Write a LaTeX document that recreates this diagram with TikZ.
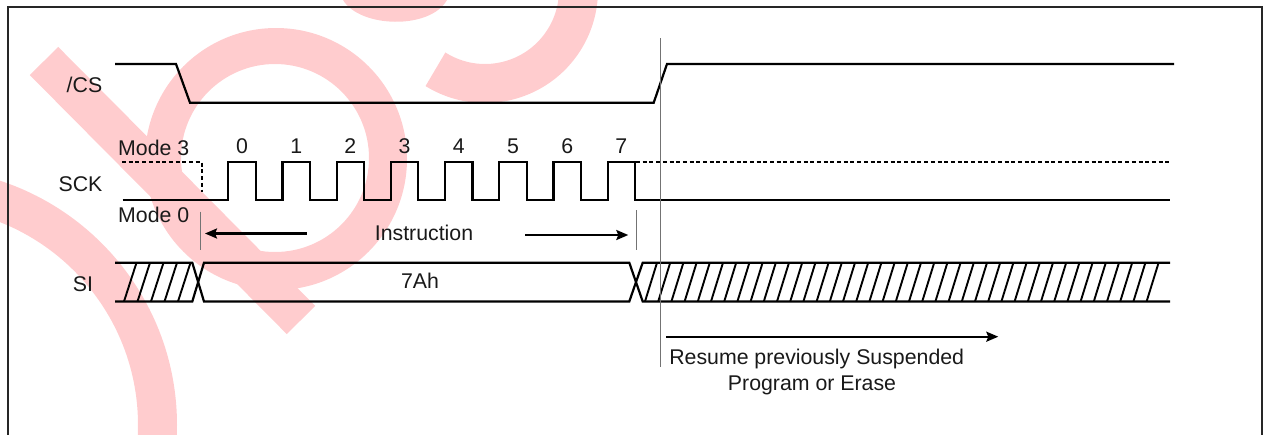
\documentclass[tikz,border=0pt]{standalone}
\usepackage{fontspec}
\setmainfont{Liberation Sans}
\usetikzlibrary{arrows.meta}
\definecolor{wm}{RGB}{255,204,206}
\begin{document}
\begin{tikzpicture}[x=1pt,y=-1pt,
  sig/.style={line width=2.2pt, line join=miter},
  hatch/.style={line width=1.9pt},
  lbl/.style={anchor=base, inner sep=0pt, text=black!90, font=\fontsize{21.3}{25}\selectfont},
  thinline/.style={line width=0.9pt, black!55},
  arr/.style={line width=2.2pt, -{Stealth[length=12pt,width=10pt,inset=2pt]}},
  dsh/.style={line width=2pt, dash pattern=on 4pt off 2.7pt},
  frame/.style={line width=2.3pt, black!85}]
\useasboundingbox (0,0) rectangle (1264,434);
\begin{scope}
  \clip (0,0) rectangle (1264,434);
  % watermark
  \fill[wm] (58.2,46.9) -- (315.2,305.9) -- (286.8,334.1) -- (29.8,75.1) -- cycle;
  \fill[wm, even odd rule] (276,159) circle[radius=131] (275,158) circle[radius=94];
  \draw[wm, line width=39pt] (-80,425) circle[radius=237.5];
  \draw[wm, line width=39pt] (435.45,69.29) arc[start angle=122, end angle=-30, radius=93.5];
  \fill[wm] (343,0) .. controls (360,28) and (430,30) .. (447,0) -- cycle;
  % frame
  \draw[frame] (8.3,440) -- (8.3,7.3) -- (1261.7,7.3) -- (1261.7,440);
\end{scope}

% /CS
\draw[sig] (115,64) -- (176,64) -- (190,102.7) -- (653.7,102.7) -- (667,64) -- (1174,64);
% SCK
\draw[dsh] (122,162) -- (201.7,162) -- (201.7,192);
\draw[sig] (122.7,200) -- (228.3,200)
  \foreach \k in {0,...,7} { -- ++(0,-38) -- ++(27.4,0) -- ++(0,38) -- ++(26.8,0) }
  -- (1170,200);
\draw[dsh] (636,162) -- (1170.7,162);
\foreach \k in {0,...,7} \node[lbl] (d\k) at ({242+\k*54.2},153.3) {\k};

% SI
\draw[sig] (115,262.7) -- (192.3,262.7) -- (204,301.5) -- (629.3,301.5) -- (642.7,262.7) -- (1170,262.7);
\draw[sig] (115,301.5) -- (192.3,301.5) -- (204,262.7) -- (629.3,262.7) -- (642.7,301.5) -- (1170,301.5);
\foreach \b in {124,137.5,151,164.5,178} \draw[hatch] (\b,301.5) -- ({\b+12.5},262.7);
\foreach \k in {0,...,38} \draw[hatch] ({645+\k*13.2},301.5) -- ({657+\k*13.2},262.7);

% guide lines
\draw[thinline] (200.3,211.7) -- (200.3,250);
\draw[thinline] (636.7,210) -- (636.7,250);
\draw[thinline] (660.7,38) -- (660.7,367);

% arrows
\coordinate (ial) at (306.7,233.5);
\coordinate (iat) at (205,233.5);
\coordinate (ibl) at (525,235);
\coordinate (ibt) at (628.3,235);
\coordinate (ral) at (666,336.7);
\coordinate (rat) at (998.3,336.7);
\draw[arr] (ial) -- (iat);
\draw[arr] (ibl) -- (ibt);
\draw[arr] (ral) -- (rat);

% labels
\node[lbl] (cs) at (84.5,92) {/CS};
\node[lbl] (sck) at (80.5,191.5) {SCK};
\node[lbl] (si) at (83,291.5) {SI};
\node[lbl, anchor=base west] (m3) at (118,155) {Mode 3};
\node[lbl, anchor=base west] (m0) at (118,222.3) {Mode 0};
\node[lbl] (ins) at (424,240) {Instruction};
\node[lbl] (ah) at (420,288.3) {7Ah};
\node[lbl] (r1) at (816.7,364) {Resume previously Suspended};
\node[lbl] (r2) at (812,390) {Program or Erase};
\end{tikzpicture}
\end{document}
